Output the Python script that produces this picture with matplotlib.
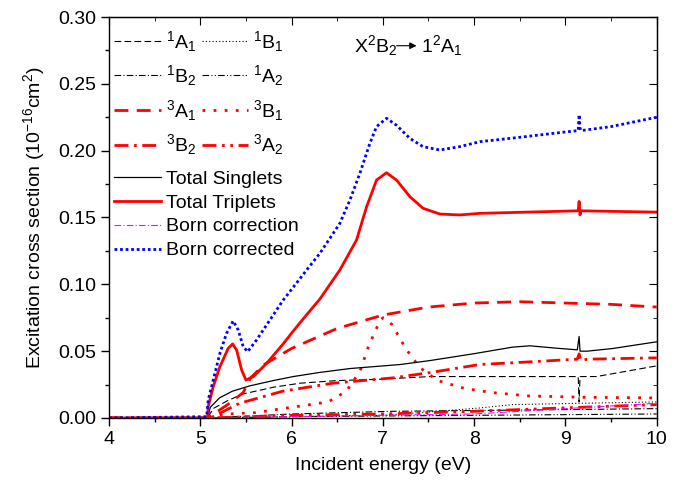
import numpy as np
import matplotlib
matplotlib.use('Agg')
import matplotlib.pyplot as plt
from matplotlib.lines import Line2D

plt.rcParams['font.family'] = ['Liberation Sans', 'DejaVu Sans']
plt.rcParams['mathtext.fontset'] = 'custom'
plt.rcParams['mathtext.rm'] = 'Liberation Sans'
plt.rcParams['mathtext.it'] = 'Liberation Sans'
plt.rcParams['mathtext.default'] = 'rm'

# ---- data (energy in eV, cross section in 1e-16 cm^2) ----
born_corr_x = [4.0, 5.07, 5.087, 5.142, 5.215, 5.288, 5.36, 5.416, 5.47, 5.519, 5.617, 5.763, 5.909,
               6.055, 6.18, 6.31, 6.529, 6.639, 6.748, 6.858, 6.931, 7.04, 7.15, 7.296, 7.44, 7.624,
               7.843, 8.062, 8.5, 9.0, 9.14, 9.15, 9.16, 9.17, 9.5, 10.0]
born_corr_y = [0.0, 0.001, 0.0135, 0.0284, 0.0484, 0.0634, 0.0726, 0.0658, 0.0534, 0.0496, 0.0584, 0.0733, 0.0883,
               0.101, 0.112, 0.1232, 0.1456, 0.163, 0.183, 0.2055, 0.218, 0.2242, 0.219, 0.2092, 0.203, 0.2005,
               0.203, 0.2067, 0.210, 0.214, 0.215, 0.227, 0.217, 0.215, 0.218, 0.225]

trip_x = [4.0, 5.08, 5.087, 5.142, 5.215, 5.306, 5.354, 5.398, 5.453, 5.5, 5.58, 5.727, 5.909,
          6.018, 6.15, 6.31, 6.529, 6.712, 6.822, 6.931, 7.04, 7.15, 7.296, 7.44, 7.624, 7.843,
          8.062, 9.14, 9.15, 9.16, 9.17, 10.0]
trip_y = [0.0, 0.0, 0.0085, 0.0234, 0.0384, 0.0521, 0.0554, 0.0509, 0.0359, 0.0284, 0.0309, 0.0409, 0.0555,
          0.065, 0.076, 0.089, 0.1107, 0.1332, 0.158, 0.178, 0.1835, 0.178, 0.1656, 0.1569, 0.1526, 0.1519,
          0.1531, 0.155, 0.162, 0.152, 0.155, 0.154]

sing_x = [4.0, 5.08, 5.11, 5.21, 5.35, 5.54, 5.8, 6.02, 6.3, 6.64, 7.19, 7.52, 7.99, 8.42, 8.61,
          8.94, 9.13, 9.15, 9.16, 9.24, 9.52, 10.0]
sing_y = [0.0, 0.0, 0.008, 0.015, 0.020, 0.024, 0.028, 0.031, 0.034, 0.037, 0.040, 0.043, 0.048, 0.053, 0.054,
          0.052, 0.051, 0.061, 0.050, 0.050, 0.052, 0.057]

a1_1_x = [4.0, 5.08, 5.14, 5.3, 5.47, 5.8, 6.09, 6.5, 6.97, 7.52, 8.06, 9.14, 9.15, 9.16, 9.34, 10.0]
a1_1_y = [0.0, 0.0, 0.007, 0.013, 0.018, 0.023, 0.026, 0.028, 0.029, 0.031, 0.031, 0.031, 0.012, 0.031, 0.031, 0.039]

b1_1_x = [4.0, 5.08, 6.0, 7.0, 7.6, 8.06, 8.42, 9.16, 10.0]
b1_1_y = [0.0, 0.0, 0.001, 0.002, 0.005, 0.0075, 0.010, 0.011, 0.012]

b2_1_x = [4.0, 5.08, 6.0, 7.1, 8.6, 10.0]
b2_1_y = [0.0, 0.0, 0.003, 0.005, 0.006, 0.007]

a2_1_x = [4.0, 5.08, 6.0, 8.0, 10.0]
a2_1_y = [0.0, 0.0, 0.001, 0.002, 0.003]

a1_3_x = [4.0, 5.08, 5.3, 5.47, 5.55, 5.7, 6.0, 6.5, 7.0, 7.5, 8.0, 8.5, 9.0, 9.5, 10.0]
a1_3_y = [0.0, 0.0, 0.01, 0.019, 0.03, 0.04, 0.052, 0.067, 0.077, 0.083, 0.086, 0.087, 0.086, 0.085, 0.083]

b1_3_x = [4.0, 5.08, 5.3, 5.6, 6.0, 6.4, 6.6, 6.75, 6.85, 6.95, 7.0, 7.1, 7.25, 7.4, 7.6,
          7.9, 8.2, 8.6, 9.2, 10.0]
b1_3_y = [0.0, 0.0, 0.003, 0.004, 0.008, 0.012, 0.02, 0.035, 0.055, 0.07, 0.075, 0.07, 0.052, 0.038, 0.028,
          0.022, 0.019, 0.0165, 0.0155, 0.015]

b2_3_x = [4.0, 5.1, 5.14, 5.43, 5.9, 6.45, 7.11, 7.52, 8.06, 8.61, 9.13, 9.15, 9.17, 9.24, 10.0]
b2_3_y = [0.0, 0.0, 0.001, 0.011, 0.020, 0.026, 0.030, 0.034, 0.040, 0.042, 0.044, 0.048, 0.043, 0.044, 0.045]

a2_3_x = [4.0, 5.08, 6.0, 7.0, 8.0, 9.16, 10.0]
a2_3_y = [0.0, 0.0, 0.002, 0.003, 0.005, 0.008, 0.010]

bcorr_x = [4.0, 5.08, 6.0, 7.0, 8.0, 9.0, 10.0]
bcorr_y = [0.0, 0.0, 0.001, 0.002, 0.003, 0.007, 0.011]

fig = plt.figure(figsize=(6.92, 4.83), dpi=100)
ax = fig.add_axes([0.1575, 0.1346, 0.7915, 0.8302])

fs = 14
ax.plot(a1_1_x, a1_1_y, color='black', lw=0.8, ls=(0, (6, 3)))
ax.plot(b1_1_x, b1_1_y, color='black', lw=0.8, ls=(0, (1, 2)))
ax.plot(b2_1_x, b2_1_y, color='black', lw=0.8, ls=(0, (6, 2, 1, 2)))
ax.plot(a2_1_x, a2_1_y, color='black', lw=0.8, ls=(0, (6, 2, 1, 2, 1, 2)))
ax.plot(a1_3_x, a1_3_y, color='red', lw=2, ls=(0, (5, 3)))
ax.plot(b1_3_x, b1_3_y, color='red', lw=2, ls=(0, (1, 3)))
ax.plot(b2_3_x, b2_3_y, color='red', lw=2, ls=(0, (5, 2, 1, 2)))
ax.plot(a2_3_x, a2_3_y, color='red', lw=2, ls=(0, (5, 2, 1, 2, 1, 2)))
ax.plot(sing_x, sing_y, color='black', lw=0.9)
ax.plot(trip_x, trip_y, color='red', lw=2)
ax.plot(bcorr_x, bcorr_y, color='magenta', lw=0.8, ls=(0, (6, 2, 1, 2)))
ax.plot(born_corr_x, born_corr_y, color='blue', lw=2, ls=(0, (1, 1)))

ax.set_xlim(4, 10)
ax.set_ylim(0, 0.30)
ax.set_xticks(np.arange(4, 10.1, 1))
ax.set_xticks(np.arange(4, 10.1, 0.5), minor=True)
ax.set_yticks(np.arange(0, 0.301, 0.05))
ax.set_yticks(np.arange(0, 0.301, 0.025), minor=True)
ax.set_yticklabels(['%.2f' % v for v in np.arange(0, 0.301, 0.05)])
ax.tick_params(direction='out', labelsize=fs, length=6, width=1)
ax.tick_params(which='minor', direction='out', length=3, width=1)
for s in ax.spines.values():
    s.set_linewidth(1)

# mirrored ticks on top/right, pointing inward
top = ax.secondary_xaxis('top')
top.set_xticks(np.arange(4, 10.1, 1))
top.set_xticks(np.arange(4, 10.1, 0.5), minor=True)
top.tick_params(direction='in', length=6, labeltop=False)
top.tick_params(which='minor', direction='in', length=3)
right = ax.secondary_yaxis('right')
right.set_yticks(np.arange(0, 0.301, 0.05))
right.set_yticks(np.arange(0, 0.301, 0.025), minor=True)
right.tick_params(direction='in', length=6, labelright=False)
right.tick_params(which='minor', direction='in', length=3)

ax.set_xlabel('Incident energy (eV)', fontsize=fs, labelpad=6)
ax.set_ylabel(r'Excitation cross section (10$^{-16}$cm$^2$)', fontsize=fs, labelpad=8)

# legends
h1 = [Line2D([], [], color='black', lw=0.8, ls=(0, (6, 3))),
      Line2D([], [], color='black', lw=0.8, ls=(0, (6, 2, 1, 2))),
      Line2D([], [], color='red', lw=2, ls=(0, (5, 3))),
      Line2D([], [], color='red', lw=2, ls=(0, (5, 2, 1, 2))),
      Line2D([], [], color='black', lw=0.8, ls=(0, (1, 2))),
      Line2D([], [], color='black', lw=0.8, ls=(0, (6, 2, 1, 2, 1, 2))),
      Line2D([], [], color='red', lw=2, ls=(0, (1, 3))),
      Line2D([], [], color='red', lw=2, ls=(0, (5, 2, 1, 2, 1, 2)))]
l1 = [r'$^1$A$_1$', r'$^1$B$_2$', r'$^3$A$_1$', r'$^3$B$_2$',
      r'$^1$B$_1$', r'$^1$A$_2$', r'$^3$B$_1$', r'$^3$A$_2$']
leg1 = ax.legend(h1, l1, ncol=2, loc='upper left', bbox_to_anchor=(-0.012, 1.0),
                 frameon=False, fontsize=fs, handlelength=2.4, handletextpad=0.25,
                 columnspacing=0.3, labelspacing=0.5, borderaxespad=0.2)
ax.add_artist(leg1)

h2 = [Line2D([], [], color='black', lw=0.9),
      Line2D([], [], color='red', lw=2),
      Line2D([], [], color='magenta', lw=0.8, ls=(0, (6, 2, 1, 2))),
      Line2D([], [], color='blue', lw=2, ls=(0, (1, 1)))]
l2 = ['Total Singlets', 'Total Triplets', 'Born correction', 'Born corrected']
ax.legend(h2, l2, loc='upper left', bbox_to_anchor=(-0.012, 0.647), frameon=False,
          fontsize=fs, handlelength=2.4, handletextpad=0.25, labelspacing=0.32,
          borderaxespad=0.2)

# transition label
ax.text(6.68, 0.279, r'X$^2$B$_2$', fontsize=fs, va='center', ha='left')
ax.annotate('', xy=(7.4, 0.2785), xytext=(7.12, 0.2785),
            arrowprops=dict(arrowstyle='-|>', color='black', lw=0.8, mutation_scale=10))
ax.text(7.42, 0.279, r'1$^2$A$_1$', fontsize=fs, va='center', ha='left')

fig.savefig('out.png', dpi=100)
